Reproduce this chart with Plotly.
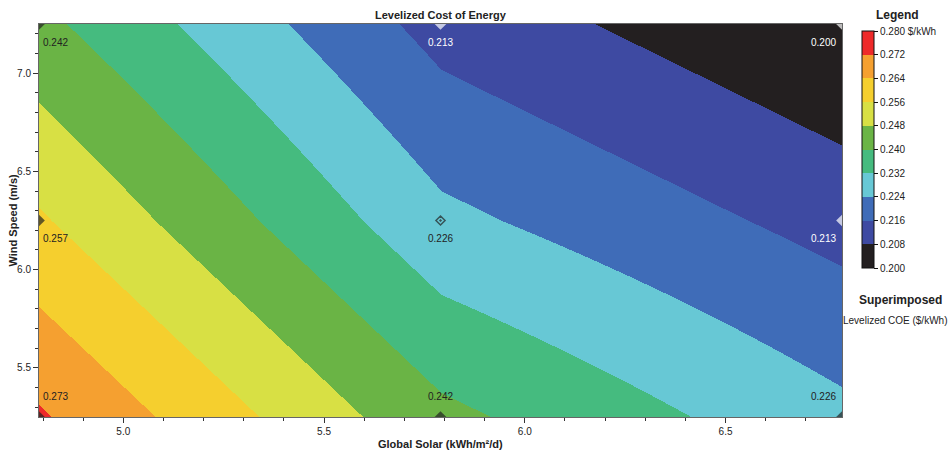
import plotly.graph_objects as go

# ---- data ----
solar = [4.79, 5.79, 6.79]            # Global Solar (kWh/m2/d)
wind = [5.25, 6.25, 7.25]             # Wind Speed (m/s)
lcoe = [                              # rows follow wind, columns follow solar
    [0.273, 0.242, 0.226],
    [0.257, 0.226, 0.213],
    [0.242, 0.213, 0.200],
]
levels = [0.200, 0.208, 0.216, 0.224, 0.232, 0.240, 0.248, 0.256, 0.264, 0.272, 0.280]
level_labels = ["0.200", "0.208", "0.216", "0.224", "0.232", "0.240",
                "0.248", "0.256", "0.264", "0.272", "0.280 $/kWh"]
band_colors = ["#231f20", "#3e4aa2", "#3f6cb8", "#67c8d5", "#45bb7f",
               "#6ab445", "#d8e044", "#f5cf2e", "#f5a030", "#ee2a2a"]
x_ticks = [5.0, 5.5, 6.0, 6.5]
y_ticks = [5.5, 6.0, 6.5, 7.0]

# ---- stepped colour scale ----
zmin, zmax = levels[0], levels[-1]
cs = []
for i, c in enumerate(band_colors):
    a = (levels[i] - zmin) / (zmax - zmin)
    b = (levels[i + 1] - zmin) / (zmax - zmin)
    cs.append([a, c])
    cs.append([b, c])

fig = go.Figure()
fig.add_trace(go.Heatmap(
    x=solar, y=wind, z=lcoe, zsmooth="best",
    colorscale=cs, zmin=zmin, zmax=zmax, hoverinfo="skip",
    colorbar=dict(
        x=1, xref="paper", xanchor="left", xpad=20, thickness=12,
        lenmode="pixels", len=237, y=0.982, yanchor="top", ypad=0,
        outlinecolor="#111", outlinewidth=1,
        tickmode="array", tickvals=levels, ticktext=level_labels,
        ticks="outside", ticklen=4, tickcolor="#111",
        tickfont=dict(family="Liberation Sans", size=10, color="#222"),
    ),
))

# superimposed values at grid points
px, py, pcol, msym, msize, labels = [], [], [], [], [], []
xanch = {0: ("left", 2), 1: ("center", 0), 2: ("right", -4)}
for j, w in enumerate(wind):
    for i, s in enumerate(solar):
        v = lcoe[j][i]
        col = "#ffffff" if v < 0.216 else "#222222"
        px.append(s)
        py.append(w)
        pcol.append(col)
        centre = (i == 1 and j == 1)
        msym.append("diamond-open-dot" if centre else "diamond")
        msize.append(7 if centre else 9)
        xa, xs = xanch[i]
        labels.append(dict(
            x=s, y=w, xref="x", yref="y", text=f"{v:.3f}", showarrow=False,
            xanchor=xa, yanchor="middle", xshift=xs, yshift=(21 if j == 0 else -18),
            font=dict(family="Liberation Sans", size=10, color=col),
        ))

fig.add_trace(go.Scatter(
    x=px, y=py, mode="markers",
    marker=dict(symbol=msym, size=msize, color=pcol,
                line=dict(color=pcol, width=[0, 0, 0, 0, 1.5, 0, 0, 0, 0])),
    cliponaxis=True, showlegend=False, hoverinfo="skip",
))

axis_font = dict(family="Liberation Sans", size=10, color="#222")
for upd, vals, rng in ((fig.update_xaxes, x_ticks, [solar[0], solar[-1]]),
                       (fig.update_yaxes, y_ticks, [wind[0], wind[-1]])):
    upd(
        range=rng, tickvals=vals, tickformat=".1f", automargin=False,
        ticks="outside", ticklen=5, tickcolor="#333", tickfont=axis_font,
        showgrid=False, zeroline=False, showline=True, linecolor="#666",
        linewidth=1, mirror=True,
        minor=dict(dtick=0.1, ticks="outside", ticklen=3, tickcolor="#333", showgrid=False),
    )

bold = dict(family="Liberation Sans", size=11, color="#222")
fig.update_layout(
    width=951, height=452,
    margin=dict(l=39, r=109, t=24, b=35, autoexpand=False),
    paper_bgcolor="white", plot_bgcolor="white",
    showlegend=False,
    annotations=labels + [
        dict(text="<b>Levelized Cost of Energy</b>", x=0.5, y=1, xref="paper", yref="paper",
             yshift=9, showarrow=False, xanchor="center", yanchor="middle", font=bold),
        dict(text="<b>Global Solar (kWh/m²/d)</b>", x=0.5, y=0, xref="paper", yref="paper",
             yshift=-27, showarrow=False, xanchor="center", yanchor="middle", font=bold),
        dict(text="<b>Wind Speed (m/s)</b>", x=0, y=0.5, xref="paper", yref="paper",
             xshift=-27, textangle=-90, showarrow=False, xanchor="center",
             yanchor="middle", font=bold),
        dict(text="<b>Legend</b>", x=1, y=1, xref="paper", yref="paper",
             xshift=55, yshift=9, showarrow=False, xanchor="center", yanchor="middle",
             font=dict(family="Liberation Sans", size=12, color="#222")),
        dict(text="<b>Superimposed</b>", x=1, y=0, xref="paper", yref="paper",
             xshift=58, yshift=117, showarrow=False, xanchor="center", yanchor="middle",
             font=dict(family="Liberation Sans", size=12, color="#222")),
        dict(text="Levelized COE ($/kWh)", x=1, y=0, xref="paper", yref="paper",
             xshift=53, yshift=97, showarrow=False, xanchor="center", yanchor="middle",
             font=dict(family="Liberation Sans", size=10, color="#222")),
    ],
)

fig.write_html(
    "out.html",
    config={"displayModeBar": False},
    post_script="document.body.style.margin='0';document.body.style.overflow='hidden';",
)
